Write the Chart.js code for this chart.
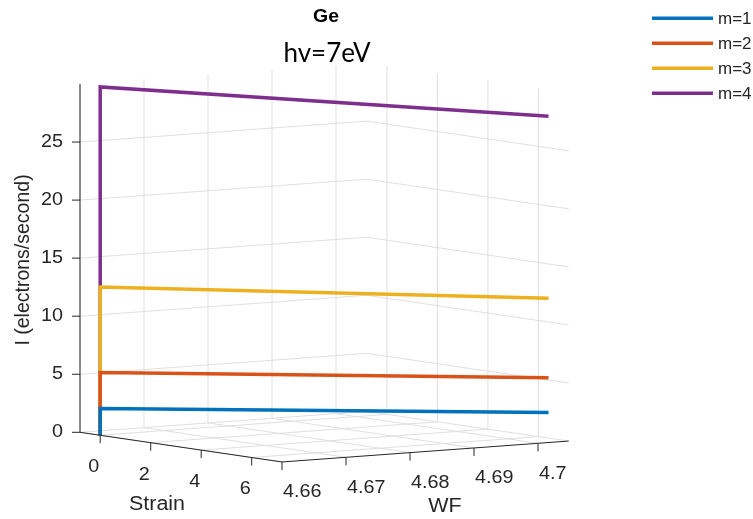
<!DOCTYPE html>
<html>
<head>
<meta charset="utf-8">
<title>Ge hv=7eV</title>
<script src="https://cdn.jsdelivr.net/npm/chart.js"></script>
<style>
    html, body { margin: 0; padding: 0; background: #fff; }
    #wrap { width: 753px; height: 519px; position: relative; }
</style>
</head>
<body>
<div id="wrap"><canvas id="chart"></canvas></div>
<script>
//Series
const seriesLabels = ["m=1", "m=2", "m=3", "m=4"];
const seriesColors = ["#0072BD", "#D95319", "#EDB120", "#7E2F8E"];

//Each curve climbs at strain 0, then runs out to the far corner
const strainPts = [0, 0, 6.4];
const wfPts = [4.66, 4.66, 4.7048];
const currentM1 = [0, 2.3, 2.2];
const currentM2 = [0, 5.4, 5.2];
const currentM3 = [0, 12.76, 12.04];
const currentM4 = [0, 30.0, 27.73];
const currents = [currentM1, currentM2, currentM3, currentM4];

//Axes
const strainLim = [-0.8, 7.2];
const wfLim = [4.66, 4.7048];
const currentLim = [0, 30];
const strainTicks = [0, 2, 4, 6];
const wfTicks = [4.66, 4.67, 4.68, 4.69, 4.7];
const currentTicks = [0, 5, 10, 15, 20, 25];

//3D view: where the box corner sits and how each axis runs on screen
const view = {
    origin: [80, 432.3],
    strain: [25.25, 3.71],
    wf: [6400, -467],
    current: 11.61
};

const project = (s, w, i) => {
    let ds = s - strainLim[0];
    let dw = w - wfLim[0];
    return {
        x: view.origin[0] + ds * view.strain[0] + dw * view.wf[0],
        y: view.origin[1] + ds * view.strain[1] + dw * view.wf[1] - (i - currentLim[0]) * view.current
    };
};

const axisColor = "#262626";
const gridColor = "#dfdfdf";
const font = "'Liberation Sans', Arial, sans-serif";

//text drawn a little wider than the font's own width
const stretchText = (ctx, text, x, y, stretch) => {
    ctx.save();
    ctx.translate(x, y);
    ctx.scale(stretch, 1);
    ctx.fillText(text, 0, 0);
    ctx.restore();
};

//Plugin for the 3D box, ticks, titles and legend
const box3d = {
    id: "box3d",
    beforeDatasetsDraw(chart) {
        const ctx = chart.ctx;
        const pt = (s, w, i) => {
            let p = project(s, w, i);
            return [chart.scales.x.getPixelForValue(p.x), chart.scales.y.getPixelForValue(p.y)];
        };
        const seg = (a, b) => {
            ctx.beginPath();
            ctx.moveTo(a[0], a[1]);
            ctx.lineTo(b[0], b[1]);
            ctx.stroke();
        };
        ctx.save();
        ctx.strokeStyle = gridColor;
        ctx.lineWidth = 1;
        //floor
        strainTicks.forEach(s => seg(pt(s, wfLim[0], 0), pt(s, wfLim[1], 0)));
        wfTicks.forEach(w => seg(pt(strainLim[0], w, 0), pt(strainLim[1], w, 0)));
        //left wall
        wfTicks.forEach(w => seg(pt(strainLim[0], w, currentLim[0]), pt(strainLim[0], w, currentLim[1])));
        currentTicks.forEach(i => seg(pt(strainLim[0], wfLim[0], i), pt(strainLim[0], wfLim[1], i)));
        //back wall
        strainTicks.forEach(s => seg(pt(s, wfLim[1], currentLim[0]), pt(s, wfLim[1], currentLim[1])));
        currentTicks.forEach(i => seg(pt(strainLim[0], wfLim[1], i), pt(strainLim[1], wfLim[1], i)));
        ctx.restore();
    },
    afterDraw(chart) {
        const ctx = chart.ctx;
        const pt = (s, w, i) => {
            let p = project(s, w, i);
            return [chart.scales.x.getPixelForValue(p.x), chart.scales.y.getPixelForValue(p.y)];
        };
        const seg = (a, b) => {
            ctx.beginPath();
            ctx.moveTo(a[0], a[1]);
            ctx.lineTo(b[0], b[1]);
            ctx.stroke();
        };
        ctx.save();
        ctx.strokeStyle = axisColor;
        ctx.fillStyle = axisColor;
        ctx.lineWidth = 1;

        //axis lines
        seg(pt(strainLim[0], wfLim[0], currentLim[0]), pt(strainLim[0], wfLim[0], currentLim[1]));
        seg(pt(strainLim[0], wfLim[0], 0), pt(strainLim[1], wfLim[0], 0));
        seg(pt(strainLim[1], wfLim[0], 0), pt(strainLim[1], wfLim[1], 0));

        ctx.font = "17.5px " + font;
        ctx.textBaseline = "middle";

        //I ticks
        ctx.textAlign = "right";
        currentTicks.forEach(i => {
            let p = pt(strainLim[0], wfLim[0], i);
            seg(p, [p[0] - 8, p[1]]);
            stretchText(ctx, String(i), p[0] - 17, p[1], 1.13);
        });

        //Strain ticks
        strainTicks.forEach(s => {
            let p = pt(s, wfLim[0], 0);
            seg(p, [p[0], p[1] + 8]);
            stretchText(ctx, String(s), p[0] - 1, p[1] + 32, 1.13);
        });

        //WF ticks
        ctx.textAlign = "left";
        wfTicks.forEach(w => {
            let p = pt(strainLim[1], w, 0);
            seg(p, [p[0], p[1] + 8]);
            stretchText(ctx, String(w), p[0] + 1, p[1] + 30.5, 1.13);
        });

        //axis titles
        ctx.textAlign = "center";
        ctx.font = "19.5px " + font;
        stretchText(ctx, "Strain", 157, 505, 1.1);
        stretchText(ctx, "WF", 445, 507, 1.1);
        ctx.save();
        ctx.translate(23, 260);
        ctx.rotate(-Math.PI / 2);
        ctx.scale(1, 1.05);
        ctx.fillText("I (electrons/second)", 0, 0);
        ctx.restore();

        //titles
        ctx.fillStyle = "#000";
        ctx.font = "bold 18px " + font;
        stretchText(ctx, "Ge", 326, 17, 1.08);
        ctx.textBaseline = "alphabetic";
        ctx.font = "26px Lato, 'Open Sans', sans-serif";
        ctx.fillText("hv=7eV", 327, 62);

        //legend
        ctx.font = "17px " + font;
        ctx.textAlign = "left";
        ctx.textBaseline = "middle";
        chart.data.datasets.forEach((ds, k) => {
            let y = 18.3 + k * 25;
            ctx.strokeStyle = ds.borderColor;
            ctx.lineWidth = 3.5;
            seg([652, y], [713, y]);
            ctx.fillStyle = axisColor;
            ctx.fillText(ds.label, 718, y + 1);
        });
        ctx.restore();
    }
};

const datasets = seriesLabels.map((label, k) => ({
    label: label,
    data: strainPts.map((s, j) => project(s, wfPts[j], currents[k][j])),
    borderColor: seriesColors[k],
    backgroundColor: seriesColors[k],
    borderWidth: 3.5,
    pointRadius: 0,
    showLine: true,
    fill: false,
    tension: 0
}));

let chart = new Chart(document.getElementById("chart"), {
    type: "scatter",
    data: { datasets: datasets },
    options: {
        responsive: true,
        maintainAspectRatio: false,
        animation: false,
        layout: { padding: 0 },
        scales: {
            x: { type: "linear", min: 0, max: 753, display: false },
            y: { type: "linear", min: 0, max: 519, reverse: true, display: false }
        },
        plugins: {
            legend: { display: false },
            title: { display: false },
            tooltip: { enabled: false }
        }
    },
    plugins: [box3d]
});
</script>
</body>
</html>
